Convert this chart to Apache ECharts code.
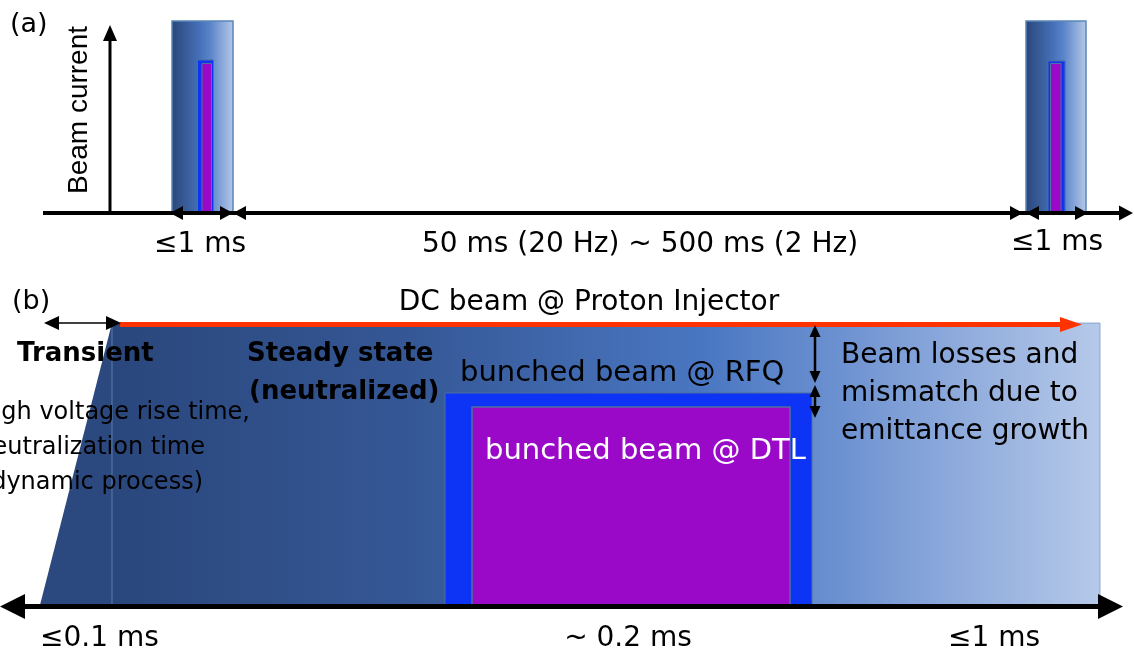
<!DOCTYPE html>
<html><head><meta charset="utf-8">
<script src="https://cdn.jsdelivr.net/npm/echarts@6/dist/echarts.min.js"></script>
<style>html,body{margin:0;padding:0;background:#fff}#chart{width:1134px;height:656px}</style>
</head><body><div id="chart"></div>
<script>
// ===== Panel (a): pulse train (x: schematic time units, y: beam current units above axis) =====
const pulseDC  = [[172, 233, 192], [1026, 1086, 192]];      // [start, end, height]
const pulseRFQ = [[197.5, 213.5, 153], [1048, 1065, 152]];
const pulseDTL = [[202, 211.5, 149.5], [1050.5, 1061, 149.5]];
const timeAxisA    = [[43, 0, 1133, 0]];                     // [x1, y1, x2, y2]
const currentAxisA = [[110, 0, 110, 188]];
const spanArrowsA  = [[170, 0, 233, 0], [233, 0, 1023, 0], [1026, 0, 1088, 0]];
const labelTextA = ['(a)', 'Beam current', '≤1 ms', '50 ms (20 Hz) ~ 500 ms (2 Hz)', '≤1 ms'];
const labelPosA  = [[10, 188], [79, 103], [200, -32], [640, -32], [1057, -30]];

// ===== Panel (b): single macro-pulse =====
const dcBeam        = [[112, 1100, 282]];                    // [start, end, height]
const transientRamp = [[40, 0], [112, 282], [112, 0]];
const rfqBeam       = [[445, 812, 212]];
const dtlBeam       = [[472, 790, 198]];
const timeAxisB     = [[0, -1.5, 1123, -1.5]];
const injectorArrow = [[120, 280.5, 1082, 280.5]];
const transientSpan = [[44, 282, 121, 282]];
const lossSpans     = [[815, 280, 815, 222], [815, 220, 815, 187]];
const labelTextB = ['(b)', 'DC beam @ Proton Injector', 'Transient', 'Steady state', '(neutralized)',
  'bunched beam @ RFQ', 'bunched beam @ DTL', 'Beam losses and', 'mismatch due to', 'emittance growth',
  'High voltage rise time,', 'neutralization time', '(dynamic process)', '≤0.1 ms', '~ 0.2 ms', '≤1 ms'];
const labelPosB = [[12, 303], [589, 302], [17, 251], [247, 251], [249, 213], [460, 232], [485, 154],
  [841, 249], [841, 211], [841, 173], [250, 192], [205, 157], [203, 122], [40, -34], [628, -34], [948, -34]];

// ===== styles =====
const F = '"DejaVu Sans"';
const styleA = [
  {font: '27px ' + F, align: 'left'},
  {font: '28px "Liberation Sans"', align: 'center', rot: true},
  {font: '28px ' + F, align: 'center'},
  {font: '28px ' + F, align: 'center'},
  {font: '28px ' + F, align: 'center'}
];
const styleB = [
  {font: '27px ' + F, align: 'left'},
  {font: '28px ' + F, align: 'center'},
  {font: 'bold 26px ' + F, align: 'left'},
  {font: 'bold 26px ' + F, align: 'left'},
  {font: 'bold 26px ' + F, align: 'left'},
  {font: '29px ' + F, align: 'left'},
  {font: '29px ' + F, align: 'left', fill: '#ffffff'},
  {font: '28px ' + F, align: 'left'},
  {font: '28px ' + F, align: 'left'},
  {font: '28px ' + F, align: 'left'},
  {font: '24px ' + F, align: 'right'},
  {font: '24px ' + F, align: 'right'},
  {font: '24px ' + F, align: 'right'},
  {font: '28px ' + F, align: 'left'},
  {font: '28px ' + F, align: 'center'},
  {font: '28px ' + F, align: 'left'}
];

const G = echarts.graphic;
const pulseGrad = () => new G.LinearGradient(0, 0, 1, 0, [
  {offset: 0, color: '#2a4679'}, {offset: 0.45, color: '#4570b8'},
  {offset: 0.62, color: '#5a84c9'}, {offset: 1, color: '#b7c9e8'}]);
const dcGrad = () => new G.LinearGradient(0, 0, 1, 0, [
  {offset: 0, color: '#2a477c'}, {offset: 0.3, color: '#355795'},
  {offset: 0.6, color: '#4a77c2'}, {offset: 0.73, color: '#6b90d0'}, {offset: 1, color: '#b6c9e9'}]);

function rectSeries(data, axis, fillFn, stroke, lw) {
  return {
    type: 'custom', xAxisIndex: axis, yAxisIndex: axis, data: data, silent: true, z: 2,
    renderItem: (params, api) => {
      const p0 = api.coord([api.value(0), 0]);
      const p1 = api.coord([api.value(1), api.value(2)]);
      return {type: 'rect', shape: {x: p0[0], y: p1[1], width: p1[0] - p0[0], height: p0[1] - p1[1]},
        style: {fill: fillFn(), stroke: stroke, lineWidth: lw}};
    }
  };
}

function arrowSeries(data, axis, o) {
  return {
    type: 'custom', xAxisIndex: axis, yAxisIndex: axis, data: data, silent: true, z: o.z || 5,
    renderItem: (params, api) => {
      const p1 = api.coord([api.value(0), api.value(1)]);
      const p2 = api.coord([api.value(2), api.value(3)]);
      const dx = p2[0] - p1[0], dy = p2[1] - p1[1], L = Math.hypot(dx, dy);
      const ux = dx / L, uy = dy / L, nx = -uy, ny = ux;
      const hl = o.hl, hw = o.hw / 2;
      const a = o.start ? [p1[0] + ux * hl * 0.8, p1[1] + uy * hl * 0.8] : p1;
      const b = o.end ? [p2[0] - ux * hl * 0.8, p2[1] - uy * hl * 0.8] : p2;
      const ch = [{type: 'line', shape: {x1: a[0], y1: a[1], x2: b[0], y2: b[1]},
        style: {stroke: o.color, lineWidth: o.lw}}];
      const head = (t, sx, sy) => ({type: 'polygon', shape: {points: [t,
        [t[0] - sx * hl + nx * hw, t[1] - sy * hl + ny * hw],
        [t[0] - sx * hl - nx * hw, t[1] - sy * hl - ny * hw]]}, style: {fill: o.color}});
      if (o.end) ch.push(head(p2, ux, uy));
      if (o.start) ch.push(head(p1, -ux, -uy));
      return {type: 'group', children: ch};
    }
  };
}

function labelSeries(texts, pos, styles, axis) {
  return {
    type: 'custom', xAxisIndex: axis, yAxisIndex: axis, data: pos, silent: true, z: 10,
    renderItem: (params, api) => {
      const i = params.dataIndex, s = styles[i];
      const p = api.coord([api.value(0), api.value(1)]);
      return {type: 'text', x: p[0], y: p[1], rotation: s.rot ? Math.PI / 2 : 0,
        style: {text: texts[i], font: s.font, fill: s.fill || '#000', align: s.align, verticalAlign: 'middle'}};
    }
  };
}

const chart = echarts.init(document.getElementById('chart'), null, {renderer: 'canvas'});
chart.setOption({
  animation: false,
  backgroundColor: '#ffffff',
  grid: [
    {left: 0, top: 0, width: 1134, height: 265},
    {left: 0, top: 265, width: 1134, height: 391}
  ],
  xAxis: [
    {gridIndex: 0, type: 'value', min: 0, max: 1134, show: false},
    {gridIndex: 1, type: 'value', min: 0, max: 1134, show: false}
  ],
  yAxis: [
    {gridIndex: 0, type: 'value', min: -52, max: 213, show: false},
    {gridIndex: 1, type: 'value', min: -51, max: 340, show: false}
  ],
  series: [
    // panel (a)
    rectSeries(pulseDC, 0, pulseGrad, '#5a86b8', 1.5),
    rectSeries(pulseRFQ, 0, () => '#0d33f5', '#4a6fa0', 1),
    rectSeries(pulseDTL, 0, () => '#9a09c8', '#50709f', 1),
    arrowSeries(timeAxisA, 0, {lw: 4, hl: 14, hw: 15, color: '#000', end: true}),
    arrowSeries(currentAxisA, 0, {lw: 3, hl: 16, hw: 14, color: '#000', end: true}),
    arrowSeries(spanArrowsA, 0, {lw: 3, hl: 13, hw: 14, color: '#000', start: true, end: true}),
    labelSeries(labelTextA, labelPosA, styleA, 0),
    // panel (b)
    {
      type: 'custom', xAxisIndex: 1, yAxisIndex: 1, data: [0], silent: true, z: 1,
      renderItem: (params, api) => ({type: 'polygon',
        shape: {points: transientRamp.map(p => api.coord(p))},
        style: {fill: '#2b497e'}})
    },
    rectSeries(dcBeam, 1, dcGrad, 'rgba(110,145,200,0.7)', 1),
    rectSeries(rfqBeam, 1, () => '#0d33f5', '#4a6fa0', 1),
    rectSeries(dtlBeam, 1, () => '#9a09c8', '#50709f', 1.5),
    arrowSeries(timeAxisB, 1, {lw: 5, hl: 25, hw: 25, color: '#000', start: true, end: true}),
    arrowSeries(injectorArrow, 1, {lw: 5, hl: 22, hw: 15, color: '#ff3300', end: true}),
    arrowSeries(transientSpan, 1, {lw: 1.5, hl: 15, hw: 14, color: '#000', start: true, end: true}),
    arrowSeries(lossSpans, 1, {lw: 2.5, hl: 12, hw: 11, color: '#000', start: true, end: true}),
    labelSeries(labelTextB, labelPosB, styleB, 1)
  ]
});
</script>
</body></html>
